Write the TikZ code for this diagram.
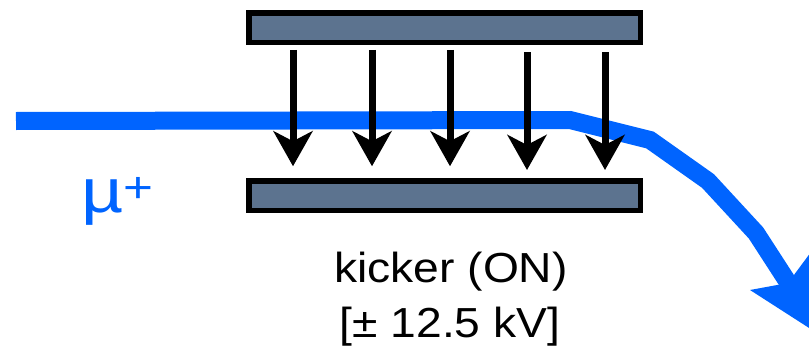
\documentclass[tikz,border=0pt]{standalone}
\usepackage{fontspec}
\setmainfont{Liberation Sans}
\usetikzlibrary{arrows.meta}
\definecolor{beamblue}{RGB}{0,100,255}
\definecolor{platefill}{RGB}{92,115,143}
\begin{document}
\begin{tikzpicture}[x=1pt,y=-1pt,
  platebox/.style={draw=black, line width=5.5pt, fill=platefill, minimum width=391.5pt, minimum height=29.5pt, inner sep=0pt},
  field/.style={line width=7pt, -{Stealth[length=35pt,width=39pt,inset=10pt]}},
  lbl/.style={font=\fontsize{42}{42}\selectfont, anchor=base, inner sep=0pt}]
\useasboundingbox (0,0) rectangle (809,348);
\clip (0,0) rectangle (809,348);
% beam
\draw[beamblue, line width=18pt, line join=miter] (16,121) -- (570,120) -- (650,140) -- (708,181) -- (756,233) -- (789,284);
\fill[beamblue] (750,290) -- (820,335) -- (811,252) -- (788,283) -- cycle;
% plates
\node[platebox] (top) at (444.5,27.5) {};
\node[platebox] (bot) at (444.5,195.5) {};
% field arrows
\draw[field, shorten <=4.75pt, shorten >=11.75pt] ([xshift=-151.5pt]top.south) -- ([xshift=-151.5pt]bot.north);
\draw[field, shorten <=4.75pt, shorten >=11.75pt] ([xshift=-72.5pt]top.south) -- ([xshift=-72.5pt]bot.north);
\draw[field, shorten <=4.75pt, shorten >=11.75pt] ([xshift=5.5pt]top.south) -- ([xshift=5.5pt]bot.north);
\draw[field, shorten <=7pt, shorten >=8pt] ([xshift=82.5pt]top.south) -- ([xshift=82.5pt]bot.north);
\draw[field, shorten <=7pt, shorten >=8pt] ([xshift=160.5pt]top.south) -- ([xshift=160.5pt]bot.north);
% labels
\node[lbl] (k1) at (451,282) {\scalebox{1.1}[1]{kicker (ON)}};
\node[lbl] (k2) at (450,337) {\scalebox{1.1}[1]{[± 12.5 kV]}};
\node[font=\fontsize{62}{62}\selectfont, anchor=base west, inner sep=0pt, text=beamblue] (mu) at (81,212) {\scalebox{1.18}[1]{µ\textsuperscript{+}}};
\end{tikzpicture}
\end{document}
